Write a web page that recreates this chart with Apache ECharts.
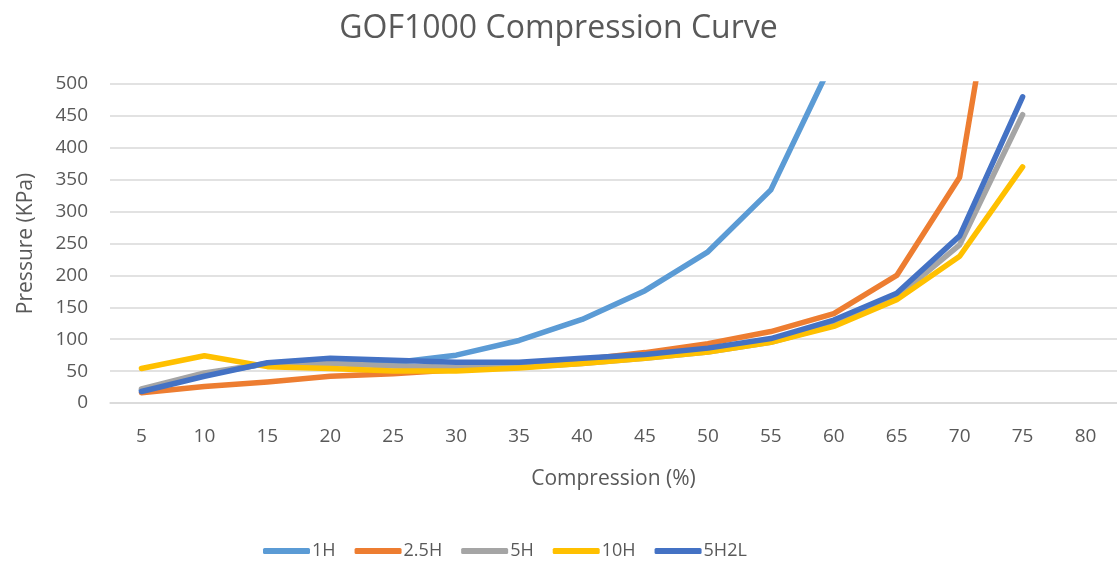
<!DOCTYPE html>
<html>
<head>
<meta charset="utf-8">
<script src="https://cdn.jsdelivr.net/npm/echarts@6/dist/echarts.min.js"></script>
<style>
html,body{margin:0;padding:0;background:#fff;}
#c{width:1117px;height:563px;}
</style>
</head>
<body>
<div id="c"></div>
<script>
var categories = ['5','10','15','20','25','30','35','40','45','50','55','60','65','70','75','80'];
var yTicks = [0,50,100,150,200,250,300,350,400,450,500];
var s1H   = [20, 45, 62, 66, 63, 75, 98, 131, 176, 237, 334, 540];
var s25H  = [16, 26, 33, 42, 46, 52, 57, 68, 79, 93, 112, 140, 200, 354, 940];
var s5H   = [22, 47, 62, 62, 58, 56, 56, 62, 70, 80, 95, 122, 166, 248, 452];
var s10H  = [54, 74, 57, 54, 50, 50, 55, 62, 70, 80, 95, 120, 162, 230, 370];
var s5H2L = [18, 42, 63, 70, 67, 64, 64, 70, 76, 86, 101, 130, 172, 262, 480];
var seriesNames = ['1H','2.5H','5H','10H','5H2L'];
var colors = ['#5B9BD5','#ED7D31','#A5A5A5','#FFC000','#4472C4'];

var font = '"Open Sans", "Noto Sans", sans-serif';
var chart = echarts.init(document.getElementById('c'));
var dataSets = [s1H, s25H, s5H, s10H, s5H2L];
chart.setOption({
  animation: false,
  color: colors,
  title: {
    text: 'GOF1000 Compression Curve',
    left: 'center', top: 8,
    textStyle: {fontFamily: font, fontSize: 32, fontWeight: 'normal', color: '#595959'}
  },
  grid: {left: 110, top: 84, width: 1016, height: 319, containLabel: false},
  xAxis: {
    type: 'category',
    data: categories,
    boundaryGap: true,
    name: 'Compression (%)',
    nameLocation: 'middle',
    nameGap: 66,
    nameTextStyle: {fontFamily: font, fontSize: 21, color: '#595959'},
    axisLine: {show: true, lineStyle: {color: '#D9D9D9', width: 1.5}},
    axisTick: {show: false},
    axisLabel: {fontFamily: font, fontSize: 19, color: '#595959', margin: 24}
  },
  yAxis: {
    type: 'value',
    min: 0, max: 500, interval: 50,
    name: 'Pressure (KPa)',
    nameLocation: 'middle',
    nameGap: 73,
    nameRotate: 90,
    nameTextStyle: {fontFamily: font, fontSize: 21, color: '#595959'},
    axisLine: {show: false},
    axisTick: {show: false},
    axisLabel: {fontFamily: font, fontSize: 19, color: '#595959', margin: 22},
    splitLine: {lineStyle: {color: '#D9D9D9', width: 1.5}}
  },
  legend: {
    top: 537,
    left: 258,
    data: seriesNames,
    icon: 'roundRect',
    itemWidth: 47, itemHeight: 6,
    itemGap: 19,
    textStyle: {fontFamily: font, fontSize: 18, color: '#595959', padding: [0,0,0,-3]}
  },
  series: seriesNames.map(function(n, i){
    return {
      name: n, type: 'line', data: dataSets[i],
      showSymbol: false, symbol: 'none',
      clip: true,
      lineStyle: {width: 5.5, color: colors[i], cap: 'round', join: 'round'},
      z: 2 + i
    };
  })
});
</script>
</body>
</html>
